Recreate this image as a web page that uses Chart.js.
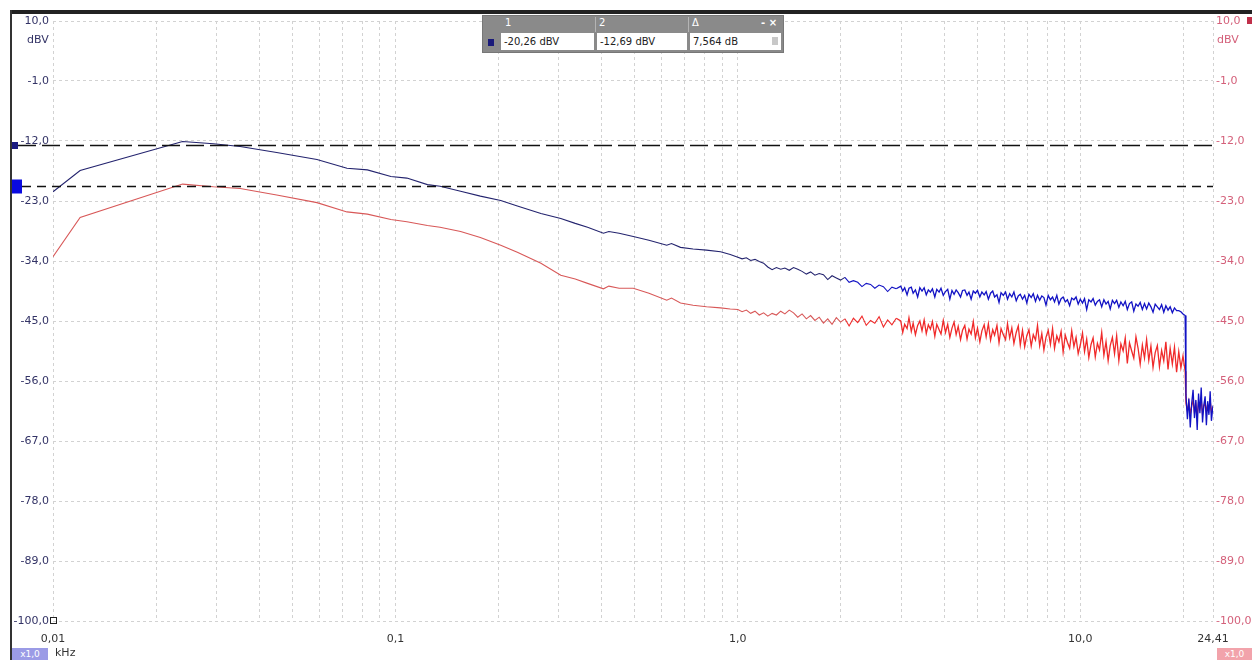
<!DOCTYPE html>
<html>
<head>
<meta charset="utf-8">
<script src="https://cdn.jsdelivr.net/npm/chart.js"></script>
<style>
  html, body { margin: 0; padding: 0; background: #fff; }
  #wrap { position: relative; width: 1252px; height: 660px; overflow: hidden; font-family: "DejaVu Sans", sans-serif; }
  #spektrum { position: absolute; left: 0; top: 0; }
  .abs { position: absolute; white-space: nowrap; }
  .topbar { left: 10px; top: 10px; width: 1242px; height: 4px; background: #222; }
  .leftbar { left: 10px; top: 10px; width: 2px; height: 650px; background: #333; }
  .einheit { font-size: 11px; }
  .faktor { height: 12px; font-size: 9px; line-height: 12px; color: #fff; text-align: center; }
  #cursorBox { left: 482px; top: 15px; width: 300px; height: 36px; background: #8a8a8a; border: 1px solid #777; }
  .hdr { color: #fff; font-size: 10px; top: 1px; }
  .sep { top: 1px; width: 1px; height: 15px; background: #b4b4b4; }
  .zelle { top: 17px; height: 17px; background: #fff; font-size: 10px; line-height: 17px; padding-left: 3px; color: #222; box-sizing: border-box; }
</style>
</head>
<body>
<div id="wrap">
  <canvas id="spektrum" width="1252" height="660"></canvas>
  <div class="abs topbar"></div>
  <div class="abs leftbar"></div>
  <div class="abs einheit" style="left:27px; top:33px; color:#333366;">dBV</div>
  <div class="abs einheit" style="left:1217px; top:33px; color:#d4607a;">dBV</div>
  <div class="abs faktor" style="left:12px; top:648px; width:36px; background:#9b9be6;">x1,0</div>
  <div class="abs einheit" style="left:55px; top:646px; color:#333;">kHz</div>
  <div class="abs faktor" style="left:1217px; top:648px; width:35px; background:#f2a3ab;">x1,0</div>

  <div class="abs" id="cursorBox">
    <div class="abs hdr" style="left:22px;">1</div>
    <div class="abs sep" style="left:112px;"></div>
    <div class="abs hdr" style="left:116px;">2</div>
    <div class="abs sep" style="left:205px;"></div>
    <div class="abs hdr" style="left:209px;">Δ</div>
    <div class="abs hdr" style="left:278px; font-weight:bold;">-&nbsp;×</div>
    <div class="abs" style="left:5px; top:23px; width:6px; height:7px; background:#1a1a7a;"></div>
    <div class="abs zelle" style="left:18px; width:93px;">-20,26 dBV</div>
    <div class="abs zelle" style="left:114px; width:90px;">-12,69 dBV</div>
    <div class="abs zelle" style="left:207px; width:91px;">7,564 dB<span style="position:absolute; right:3px; top:4px; width:6px; height:8px; background:#c8c8c8;"></span></div>
  </div>
</div>

<script>
// Frequenzen in kHz (gemeinsam für beide Kanäle)
const freqKHz = [
  // bis 1 kHz
  0.010, 0.012, 0.0239, 0.0294, 0.0352, 0.045, 0.059, 0.0722, 0.0828, 0.097, 0.108,
  0.124, 0.135, 0.155, 0.177, 0.203, 0.227, 0.266, 0.304, 0.335, 0.364, 0.405, 0.42,
  0.45, 0.495, 0.55, 0.62, 0.64, 0.68, 0.74, 0.81, 0.89, 0.95,
  // 1 - 3 kHz
  1.000, 1.029, 1.059, 1.090, 1.122, 1.155, 1.189, 1.223, 1.259, 1.296, 1.334, 1.372,
  1.413, 1.454, 1.496, 1.540, 1.585, 1.631, 1.679, 1.728, 1.778, 1.830, 1.884, 1.939,
  1.995, 2.054, 2.113, 2.175, 2.239, 2.304, 2.371, 2.441, 2.512, 2.585, 2.661, 2.738,
  2.818, 2.901,
  // 3 - 20 kHz
  2.99, 3.03, 3.07, 3.12, 3.16, 3.21, 3.25, 3.30, 3.35, 3.40,
  3.45, 3.50, 3.55, 3.60, 3.65, 3.70, 3.76, 3.81, 3.87, 3.92,
  3.98, 4.04, 4.10, 4.16, 4.22, 4.28, 4.34, 4.40, 4.47, 4.53,
  4.60, 4.67, 4.73, 4.80, 4.87, 4.94, 5.01, 5.09, 5.16, 5.24,
  5.31, 5.39, 5.47, 5.55, 5.62, 5.71, 5.79, 5.87, 5.96, 6.05,
  6.13, 6.22, 6.31, 6.40, 6.50, 6.59, 6.68, 6.78, 6.88, 6.98,
  7.08, 7.19, 7.29, 7.40, 7.50, 7.61, 7.72, 7.83, 7.94, 8.06,
  8.18, 8.30, 8.41, 8.54, 8.66, 8.79, 8.91, 9.04, 9.17, 9.31,
  9.44, 9.58, 9.72, 9.86, 10.00, 10.15, 10.29, 10.44, 10.59, 10.75,
  10.90, 11.06, 11.22, 11.38, 11.55, 11.72, 11.89, 12.06, 12.23, 12.41,
  12.59, 12.77, 12.96, 13.14, 13.34, 13.53, 13.72, 13.92, 14.13, 14.33,
  14.54, 14.75, 14.96, 15.18, 15.40, 15.62, 15.85, 16.08, 16.31, 16.55,
  16.79, 17.03, 17.28, 17.53, 17.78, 18.04, 18.30, 18.57, 18.84, 19.11,
  19.39, 19.67, 19.95, 20.24,
  // oberhalb 20 kHz
  20.35, 20.55, 20.75, 20.95, 21.15, 21.35, 21.55, 21.75, 21.95, 22.15, 22.35, 22.55,
  22.75, 22.95, 23.15, 23.35, 23.55, 23.75, 23.95, 24.15, 24.41
];

// Kanal 1 (blau), dBV
const kanalBlau = [
  -21.3, -17.4, -12.1, -12.5, -13.0, -14.1, -15.4, -17.0, -17.3, -18.5, -18.8,
  -20.0, -20.3, -21.2, -22.1, -22.9, -23.9, -25.3, -26.2, -27.1, -27.8, -28.9, -28.6,
  -28.9, -29.5, -30.2, -31.1, -30.8, -31.5, -31.8, -32.0, -32.3, -32.8,
  -33.3, -33.6, -33.4, -33.9, -33.7, -34.1, -34.4, -35.1, -35.6, -35.2, -35.5, -35.3,
  -35.7, -35.2, -35.5, -35.9, -36.4, -36.0, -36.6, -36.3, -36.5, -37.4, -36.7, -37.1,
  -37.5, -37.0, -37.9, -37.6, -37.9, -38.7, -38.1, -38.3, -39.0, -38.4, -38.7, -39.6,
  -38.8, -39.1,
  -38.6, -39.5, -38.9, -40.2, -39.0, -38.8, -39.9, -39.3, -40.6, -38.9,
  -39.5, -38.9, -40.2, -39.3, -39.7, -39.1, -40.6, -39.2, -39.7, -39.0,
  -40.3, -39.6, -39.2, -41.0, -39.4, -40.1, -39.3, -39.8, -40.6, -39.4,
  -39.3, -40.3, -39.7, -41.0, -39.5, -39.9, -39.4, -40.6, -39.7, -40.2,
  -39.6, -41.0, -39.9, -39.5, -40.6, -40.2, -41.6, -39.8, -40.3, -39.7,
  -41.0, -40.0, -40.6, -39.7, -41.3, -40.4, -40.1, -41.0, -40.3, -41.7,
  -40.1, -40.7, -40.0, -41.4, -40.3, -41.2, -40.4, -40.7, -42.1, -40.3,
  -41.1, -40.6, -41.5, -40.3, -41.9, -40.9, -40.6, -41.5, -41.1, -42.2,
  -40.8, -41.1, -40.6, -41.9, -41.0, -41.7, -40.9, -42.9, -41.1, -41.5,
  -40.9, -42.1, -41.4, -41.1, -42.4, -41.1, -41.9, -41.4, -42.8, -41.2,
  -41.8, -41.2, -42.5, -41.5, -42.2, -41.4, -42.9, -41.8, -41.5, -43.2,
  -41.9, -42.3, -41.6, -42.9, -41.8, -42.8, -41.7, -42.4, -43.4, -41.9,
  -42.4, -42.9, -42.0, -43.4, -42.2, -43.0, -42.4, -43.5, -42.6, -43.1,
  -43.1, -43.3, -43.7, -44.0,
  -58.5, -63.0, -59.2, -64.5, -60.1, -57.6, -62.8, -59.5, -65.0, -58.3, -61.9, -57.2,
  -63.6, -60.4, -58.8, -64.1, -59.7, -62.2, -57.9, -63.3, -60.5
];

// Kanal 2 (rot), dBV
const kanalRot = [
  -33.2, -26.0, -19.9, -20.4, -20.7, -21.9, -23.3, -25.0, -25.4, -26.4, -26.8,
  -27.5, -27.8, -28.6, -29.7, -31.1, -32.4, -34.4, -36.6, -37.3, -38.1, -39.1, -38.6,
  -39.0, -39.0, -39.9, -41.2, -40.8, -41.7, -42.1, -42.4, -42.6, -42.8,
  -42.9, -43.3, -43.0, -43.6, -43.2, -43.9, -43.5, -44.1, -43.6, -43.9, -43.2, -43.7,
  -43.0, -43.5, -44.3, -43.7, -44.6, -44.0, -44.9, -44.3, -45.4, -44.6, -45.6, -44.4,
  -45.2, -44.6, -45.9, -44.5, -45.3, -44.1, -45.8, -44.9, -45.4, -44.2, -46.1, -44.8,
  -45.7, -44.5,
  -45.0, -47.1, -45.6, -46.4, -44.4, -46.9, -45.4, -47.5, -45.8, -45.0,
  -46.8, -44.8, -47.3, -45.7, -46.5, -45.1, -47.8, -45.6, -46.6, -47.4,
  -44.9, -47.1, -45.6, -48.0, -46.3, -45.2, -47.5, -46.0, -48.4, -46.7,
  -45.8, -48.3, -46.5, -47.4, -45.1, -48.1, -46.3, -48.8, -46.8, -45.7,
  -47.9, -45.5, -48.5, -46.6, -47.6, -45.8, -49.0, -46.4, -47.5, -48.4,
  -45.5, -48.1, -46.3, -49.1, -47.1, -45.9, -49.4, -46.7, -49.7, -47.7,
  -46.6, -49.6, -47.5, -48.5, -45.8, -49.5, -47.3, -50.3, -48.0, -46.7,
  -49.3, -46.4, -50.0, -47.7, -48.8, -46.9, -50.7, -47.6, -48.9, -50.0,
  -46.8, -49.7, -48.0, -51.0, -49.4, -47.2, -50.6, -48.3, -51.7, -49.3,
  -48.1, -51.6, -49.1, -50.3, -47.1, -51.3, -48.8, -52.3, -49.5, -48.0,
  -51.0, -47.7, -52.3, -49.2, -50.5, -48.1, -52.8, -49.0, -50.5, -51.8,
  -47.9, -50.0, -52.9, -49.4, -51.8, -48.4, -52.2, -49.6, -53.5, -50.8,
  -49.5, -53.4, -50.4, -52.3, -48.8, -53.9, -50.0, -52.9, -49.8, -54.4,
  -50.6, -53.6, -51.4, -54.2,
  -60.0, -61.5, -59.8, -62.0, -60.6, -59.5, -61.8, -60.2, -62.4, -59.9, -61.0, -59.4,
  -62.1, -60.6, -60.0, -61.7, -60.3, -61.2, -59.7, -61.6, -60.8
];

// Achsen
const yTickWerte = [10, -1, -12, -23, -34, -45, -56, -67, -78, -89, -100];
const yTickLabels = ['10,0', '-1,0', '-12,0', '-23,0', '-34,0', '-45,0', '-56,0', '-67,0', '-78,0', '-89,0', '-100,0'];
const xGitter = [
  0.01, 0.02, 0.03, 0.04, 0.05, 0.06, 0.07, 0.08, 0.09,
  0.1, 0.2, 0.3, 0.4, 0.5, 0.6, 0.7, 0.8, 0.9,
  1, 2, 3, 4, 5, 6, 7, 8, 9,
  10, 20, 24.41
];
const xTickWerte = [0.01, 0.1, 1, 10, 24.41];
const xTickLabels = ['0,01', '0,1', '1,0', '10,0', '24,41'];

// Cursor-Positionen (dBV)
const cursor1 = -20.26;
const cursor2 = -12.69;

const gitterFarbe = '#d2d2d2';
const schrift = { family: 'DejaVu Sans', size: 11 };

function punkte(werte) {
  return freqKHz.map((f, i) => ({ x: f, y: werte[i] }));
}

// im verrauschten Bereich etwas kräftiger zeichnen
const breite = c => c.p0.parsed.x >= 2.9 ? 1.3 : 1.1;

// Cursorlinien und Markierungen
const cursorPlugin = {
  id: 'cursorPlugin',
  afterDatasetsDraw(chart) {
    const { ctx, chartArea, scales } = chart;
    const ys = scales.y;
    const y1 = Math.round(ys.getPixelForValue(cursor1)) + 0.5;
    const y2 = Math.round(ys.getPixelForValue(cursor2)) + 0.5;
    ctx.save();
    ctx.strokeStyle = '#111';
    ctx.lineWidth = 1.3;
    ctx.setLineDash([18, 6]);
    ctx.beginPath();
    ctx.moveTo(18, y2);
    ctx.lineTo(chartArea.right, y2);
    ctx.stroke();
    ctx.setLineDash([9, 6]);
    ctx.beginPath();
    ctx.moveTo(22, y1);
    ctx.lineTo(chartArea.right, y1);
    ctx.stroke();
    ctx.setLineDash([]);
    ctx.fillStyle = '#1a1a80';
    ctx.fillRect(12, y2 - 3.5, 6, 7);
    ctx.fillStyle = '#0a0ae0';
    ctx.fillRect(12, y1 - 7, 10, 14);
    ctx.fillStyle = '#c0304a';
    ctx.fillRect(1247, ys.top - 4, 5, 7);
    ctx.strokeStyle = '#222';
    ctx.lineWidth = 1;
    ctx.strokeRect(50.5, ys.bottom - 3.5, 6, 6);
    ctx.restore();
  }
};

new Chart(document.getElementById('spektrum'), {
  type: 'line',
  data: {
    datasets: [
      {
        label: 'Kanal 1',
        data: punkte(kanalBlau),
        borderWidth: 1.1,
        borderColor: '#23236e',
        segment: {
          borderColor: c => c.p0.parsed.x >= 2 ? '#1212c4' : '#23236e',
          borderWidth: breite
        },
        pointRadius: 0,
        tension: 0
      },
      {
        label: 'Kanal 2',
        data: punkte(kanalRot),
        borderWidth: 1.1,
        borderColor: '#d85858',
        segment: {
          borderColor: c => c.p0.parsed.x >= 2 ? '#f02a2a' : '#d85858',
          borderWidth: breite
        },
        pointRadius: 0,
        tension: 0
      }
    ]
  },
  options: {
    responsive: false,
    animation: false,
    layout: { padding: { top: 21, left: 0, right: 0, bottom: 0 } },
    plugins: { legend: { display: false }, tooltip: { enabled: false } },
    scales: {
      x: {
        type: 'logarithmic',
        min: 0.01,
        max: 24.41,
        afterBuildTicks: s => { s.ticks = xGitter.map(v => ({ value: v })); },
        afterFit: s => { s.height = 39; },
        ticks: {
          autoSkip: false,
          maxRotation: 0,
          padding: 12,
          color: '#333',
          font: schrift,
          callback: v => {
            const i = xTickWerte.indexOf(v);
            return i >= 0 ? xTickLabels[i] : '';
          }
        },
        grid: { color: gitterFarbe, drawTicks: false },
        border: { display: false, dash: [3, 3] }
      },
      y: {
        position: 'left',
        min: -100,
        max: 10,
        afterBuildTicks: s => { s.ticks = yTickWerte.map(v => ({ value: v })); },
        afterFit: s => { s.width = 53; },
        ticks: {
          padding: 4,
          color: '#333366',
          font: schrift,
          callback: v => yTickLabels[yTickWerte.indexOf(v)]
        },
        grid: { color: gitterFarbe, drawTicks: false },
        border: { display: false, dash: [3, 3] }
      },
      y2: {
        position: 'right',
        min: -100,
        max: 10,
        afterBuildTicks: s => { s.ticks = yTickWerte.map(v => ({ value: v })); },
        afterFit: s => { s.width = 39; },
        ticks: {
          padding: 3,
          color: '#d4607a',
          font: schrift,
          callback: v => yTickLabels[yTickWerte.indexOf(v)]
        },
        grid: { display: false, drawTicks: false },
        border: { display: false }
      }
    }
  },
  plugins: [cursorPlugin]
});
</script>
</body>
</html>
